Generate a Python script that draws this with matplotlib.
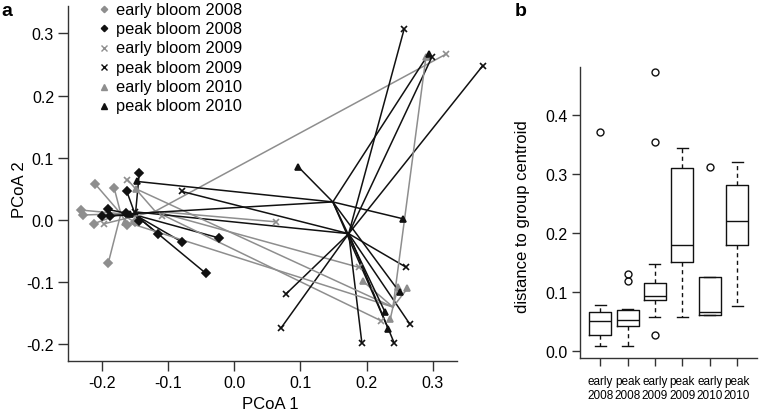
import matplotlib
matplotlib.use("Agg")
import matplotlib.pyplot as plt

plt.rcParams['font.family'] = ['Liberation Sans', 'DejaVu Sans']

# ---- panel a: PCoA spiders (centroid -> samples) ----
groups = ['early bloom 2008', 'peak bloom 2008', 'early bloom 2009',
          'peak bloom 2009', 'early bloom 2010', 'peak bloom 2010']

e08_cx, e08_cy = -0.172, 0.010
e08_x = [-0.211, -0.182, -0.233, -0.229, -0.213, -0.162, -0.191, -0.150]
e08_y = [0.058, 0.051, 0.016, 0.008, -0.006, -0.008, -0.069, -0.004]

p08_cx, p08_cy = -0.150, 0.008
p08_x = [-0.144, -0.163, -0.192, -0.200, -0.189, -0.164, -0.145, -0.115, -0.080, -0.023, -0.043]
p08_y = [0.076, 0.046, 0.017, 0.007, 0.007, 0.012, -0.001, -0.023, -0.035, -0.029, -0.086]

e09_cx, e09_cy = -0.120, 0.014
e09_x = [0.321, -0.162, -0.197, -0.110, 0.063, 0.188, 0.222]
e09_y = [0.267, 0.065, -0.006, 0.007, -0.003, -0.076, -0.162]

p09_cx, p09_cy = 0.173, -0.022
p09_x = [0.257, 0.299, 0.376, 0.078, 0.071, 0.193, 0.242, 0.266, 0.260, -0.080, -0.150]
p09_y = [0.307, 0.262, 0.248, -0.119, -0.173, -0.198, -0.198, -0.168, -0.076, 0.046, 0.013]

e10_cx, e10_cy = 0.240, -0.140
e10_x = [-0.149, -0.165, 0.290, 0.262, 0.248, 0.194, 0.236]
e10_y = [0.050, -0.003, 0.262, -0.110, -0.107, -0.098, -0.159]

p10_cx, p10_cy = 0.149, 0.029
p10_x = [0.097, 0.255, 0.250, 0.228, 0.233, 0.294, -0.148, -0.158]
p10_y = [0.085, 0.002, -0.116, -0.148, -0.175, 0.267, 0.062, 0.010]

# ---- panel b: distance to group centroid (box stats) ----
box_labels = ['early\n2008', 'peak\n2008', 'early\n2009', 'peak\n2009', 'early\n2010', 'peak\n2010']
whislo = [0.008, 0.008, 0.057, 0.057, 0.060, 0.076]
q1 = [0.027, 0.042, 0.086, 0.150, 0.060, 0.179]
med = [0.050, 0.052, 0.093, 0.179, 0.065, 0.219]
q3 = [0.065, 0.069, 0.114, 0.310, 0.124, 0.281]
whishi = [0.077, 0.070, 0.146, 0.343, 0.124, 0.319]
fliers = [[0.370], [0.118, 0.130], [0.472, 0.354, 0.027], [], [0.311], []]

GRAY = '#8e8e8e'
BLACK = '#111111'

fig = plt.figure(figsize=(7.59, 4.14), dpi=100)
W, H = 759.0, 414.0

ax = fig.add_axes([68 / W, 1 - 362 / H, 389 / W, 355 / H])
series = [
    (e08_cx, e08_cy, e08_x, e08_y, GRAY, 'D', 3.6),
    (p08_cx, p08_cy, p08_x, p08_y, BLACK, 'D', 3.6),
    (e09_cx, e09_cy, e09_x, e09_y, GRAY, 'x', 5.0),
    (p09_cx, p09_cy, p09_x, p09_y, BLACK, 'x', 5.0),
    (e10_cx, e10_cy, e10_x, e10_y, GRAY, '^', 5.0),
    (p10_cx, p10_cy, p10_x, p10_y, BLACK, '^', 5.0),
]
for cx, cy, xs, ys, col, mk, ms in series:
    for x, y in zip(xs, ys):
        ax.plot([cx, x], [cy, y], color=col, lw=1.1, clip_on=False, zorder=2)
for cx, cy, xs, ys, col, mk, ms in series:
    ax.plot(xs, ys, ls='none', marker=mk, ms=ms, color=col, mec=col,
            mew=1.2, clip_on=False, zorder=3)

ax.set_xlim(-0.252, 0.337)
ax.set_ylim(-0.2267, 0.344)
ax.set_xticks([-0.2, -0.1, 0.0, 0.1, 0.2, 0.3])
ax.set_yticks([-0.2, -0.1, 0.0, 0.1, 0.2, 0.3])
ax.set_xticklabels(['-0.2', '-0.1', '0.0', '0.1', '0.2', '0.3'])
ax.set_yticklabels(['-0.2', '-0.1', '0.0', '0.1', '0.2', '0.3'])
for s in ['top', 'right']:
    ax.spines[s].set_visible(False)
for s in ['left', 'bottom']:
    ax.spines[s].set_color('#333333')
    ax.spines[s].set_linewidth(1.0)
ax.tick_params(direction='out', length=7, width=1.0, color='#333333',
               labelsize=11.5, pad=3)

# legend drawn by hand in axes coordinates
leg_rows = [10, 29.4, 48.8, 68.2, 87.6, 107]
for (cx, cy, xs, ys, col, mk, ms), lab, ry in zip(series, groups, leg_rows):
    fy = 1 - (ry - 7) / 355.0
    ax.plot([(104 - 68) / 389.0], [fy], transform=ax.transAxes, marker=mk,
            ms=ms * 0.9, color=col, mec=col, mew=1.0, ls='none', clip_on=False)
    ax.text((116 - 68) / 389.0, fy, lab, transform=ax.transAxes,
            fontsize=11.8, va='center', ha='left')

fig.text(270 / W, 1 - 405 / H, 'PCoA 1', fontsize=12, ha='center', va='center')
fig.text(20 / W, 1 - 190 / H, 'PCoA 2', fontsize=12, ha='center', va='center',
         rotation=90)
fig.text(7 / W, 1 - 12 / H, 'a', fontsize=14, weight='bold', ha='center', va='center')

# ---- panel b ----
bx = fig.add_axes([580 / W, 1 - 359 / H, 177.3 / W, 290.7 / H])
stats = []
for i in range(len(box_labels)):
    stats.append(dict(med=med[i], q1=q1[i], q3=q3[i], whislo=whislo[i],
                      whishi=whishi[i], fliers=fliers[i], label=box_labels[i]))
bx.bxp(stats, positions=range(1, 7), widths=0.8, capwidths=0.4,
       boxprops=dict(color=BLACK, lw=1.0),
       medianprops=dict(color=BLACK, lw=1.0),
       whiskerprops=dict(color=BLACK, lw=1.0, linestyle=(0, (3, 2.5))),
       capprops=dict(color=BLACK, lw=1.0),
       flierprops=dict(marker='o', mfc='none', mec=BLACK, ms=5, mew=1.0))
bx.set_xlim(0.26, 6.74)
bx.set_ylim(-0.0124, 0.48)
bx.set_yticks([0.0, 0.1, 0.2, 0.3, 0.4])
bx.set_yticklabels(['0.0', '0.1', '0.2', '0.3', '0.4'])
bx.set_xticks(range(1, 7))
bx.set_xticklabels(box_labels, fontsize=8.5, linespacing=1.25)
for s in ['top', 'right']:
    bx.spines[s].set_visible(False)
for s in ['left', 'bottom']:
    bx.spines[s].set_color('#333333')
    bx.spines[s].set_linewidth(1.0)
bx.tick_params(axis='y', direction='out', length=6, width=1.0, color='#333333',
               labelsize=11.5, pad=3)
bx.tick_params(axis='x', direction='out', length=6, width=1.0, color='#333333',
               pad=6)
fig.text(523 / W, 1 - 217 / H, 'distance to group centroid', fontsize=12,
         ha='center', va='center', rotation=90)
fig.text(521 / W, 1 - 12 / H, 'b', fontsize=14, weight='bold', ha='center', va='center')

fig.savefig('out.png', dpi=100)
